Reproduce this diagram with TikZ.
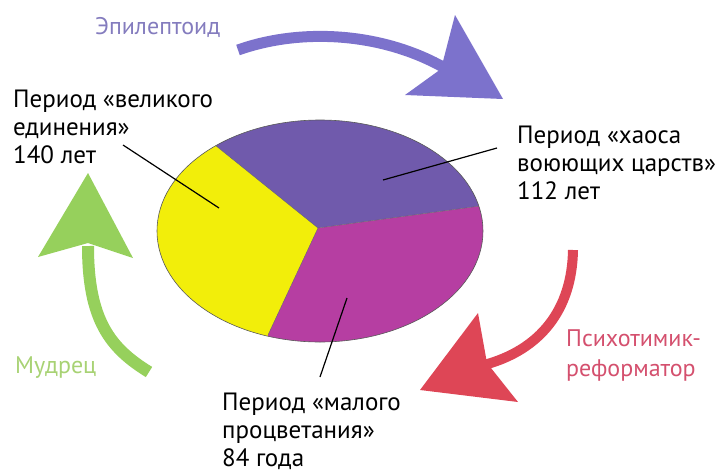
\documentclass[tikz,border=0pt]{standalone}
\usepackage{fontspec}
\setmainfont{PT Sans}
\usepackage{xcolor}
\usetikzlibrary{positioning}
\definecolor{sectyellow}{RGB}{242,238,10}
\definecolor{sectviolet}{RGB}{112,90,172}
\definecolor{sectmagenta}{RGB}{182,62,162}
\definecolor{arrviolet}{RGB}{124,114,204}
\definecolor{arrgreen}{RGB}{150,208,92}
\definecolor{arrred}{RGB}{222,70,86}
\definecolor{txtviolet}{RGB}{132,124,190}
\definecolor{txtred}{RGB}{212,80,110}
\definecolor{txtgreen}{RGB}{168,210,116}

\begin{document}
\begin{tikzpicture}[x=1pt, y=-1pt,
    every node/.style={inner sep=0pt, anchor=north west, align=left},
    period/.style={font=\fontsize{25}{28}\selectfont},
    type/.style={font=\fontsize{24}{30}\selectfont},
    leader/.style={black, line width=1.2pt}]
				    		\useasboundingbox (0,0) rectangle (718,475);
				    		% sectors of the ellipse
				    		\coordinate (o) at (318,228);
				    		\coordinate (b1) at (215,145);
				    		\coordinate (b2) at (480,206);
				    		\coordinate (b3) at (268,335);
				    		\begin{scope}
				    			\clip (320,231) ellipse [x radius=163pt, y radius=111pt];
				    			\fill[sectyellow] (o) -- (b1) -- (150,90) -- (100,100) -- (100,400) -- (260,400) -- (b3) -- cycle;
				    			\fill[sectviolet] (o) -- (b1) -- (200,60) -- (540,60) -- (540,200) -- (b2) -- cycle;
				    			\fill[sectmagenta] (o) -- (b2) -- (540,210) -- (540,400) -- (260,400) -- (b3) -- cycle;
				    			\draw[black!60, line width=0.4pt] (b1) -- (o) -- (b2) (o) -- (b3);
				    		\end{scope}
				    		\draw[black!65, line width=0.6pt] (320,231) ellipse [x radius=163pt, y radius=111pt];
				    		% arrows
				    		\fill[arrviolet] (455,15) -- (503,99) -- (405,95) -- (441,69) -- cycle;
				    		\draw[arrviolet, line width=11pt] (238,50) .. controls (300,28) and (380,32) .. (443,67);
				    		\fill[arrred] (420,390) -- (478,313) -- (487,363) -- (518,402) -- cycle;
				    		\draw[arrred, line width=10pt] (573,250) .. controls (572,310) and (540,350) .. (484,365);
				    		\fill[arrgreen] (88,173) -- (133,258) -- (88,243) -- (38,257) -- cycle;
				    		\draw[arrgreen, line width=12pt] (88,246) .. controls (88,320) and (110,348) .. (149,372);
				    		% labels
				    		\node[period] (great) at (13,90) {Период «великого\\единения»\\140 лет};
				    		\node[period] (chaos) at (517,126) {Период «хаоса\\воюющих царств»\\112 лет};
				    		\node[period] (small) at (222,393) {Период «малого\\процветания»\\84 года};
				    		\node[type, text=txtviolet] (epil) at (95,17) {Эпилептоид};
				    		\node[type, text=txtred] (psych) at (566,329) {Психотимик-\\реформатор};
				    		\node[type, text=txtgreen] (sage) at (15,356) {Мудрец};
				    		% leader lines
				    		\coordinate (inyel) at (219,208);
				    		\coordinate (invio) at (383,180);
				    		\coordinate (inmag) at (347,298);
				    		\coordinate (greatend) at (123,145);
				    		\coordinate (chaosend) at (497,148);
				    		\coordinate (smallend) at (320,377);
				    		\draw[leader] (greatend) -- (inyel);
				    		\draw[leader] (chaosend) -- (invio);
				    		\draw[leader] (smallend) -- (inmag);
				    	\end{tikzpicture}
\end{document}
